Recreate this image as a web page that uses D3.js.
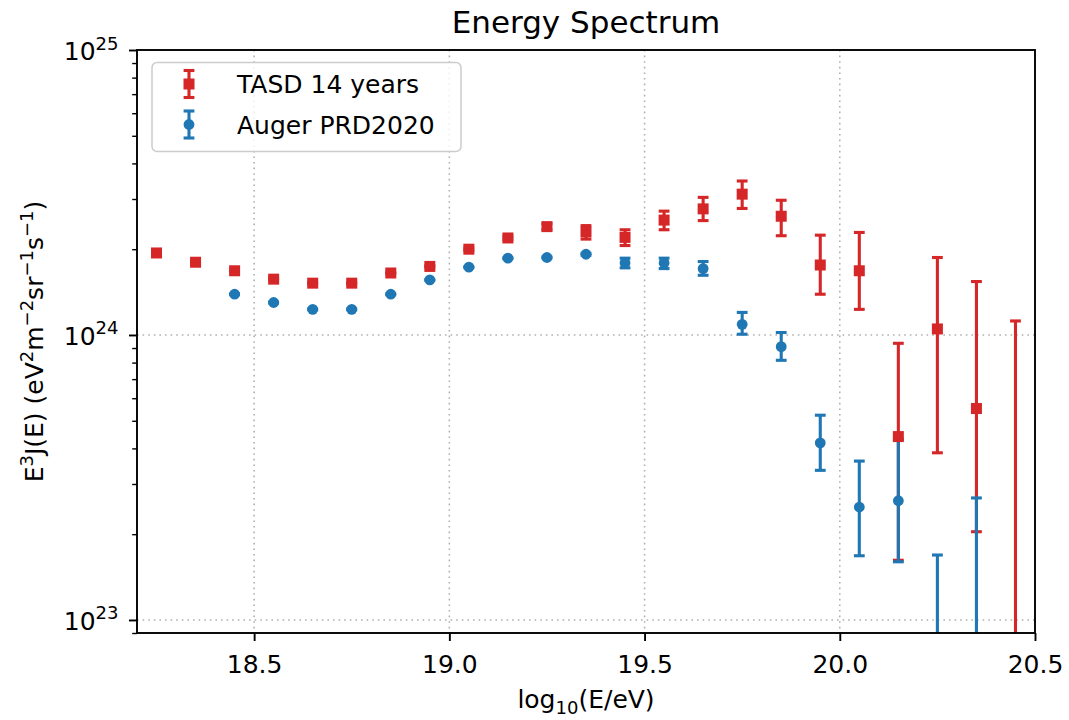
<!DOCTYPE html>
<html>
<head>
<meta charset="utf-8">
<script src="https://cdn.jsdelivr.net/npm/d3@7"></script>
<style>
  body { margin: 0; background: #ffffff; }
  svg { display: block; font-family: "DejaVu Sans", "Liberation Sans", sans-serif; }
</style>
</head>
<body>
<svg id="chart" width="1069" height="720"></svg>
<script>
// ---- Data: E^3 J(E) in eV^2 m^-2 sr^-1 s^-1, bin centres in log10(E/eV) ----
const tasdEnergy = [18.25, 18.35, 18.45, 18.55, 18.65, 18.75, 18.85, 18.95, 19.05, 19.15, 19.25, 19.35,
                    19.45, 19.55, 19.65, 19.75, 19.85, 19.95, 20.05, 20.15, 20.25, 20.35, 20.45];
const tasdFlux  = [1.94e24, 1.80e24, 1.68e24, 1.57e24, 1.52e24, 1.52e24, 1.65e24, 1.74e24, 2.00e24, 2.19e24, 2.40e24, 2.30e24,
                   2.20e24, 2.53e24, 2.77e24, 3.12e24, 2.61e24, 1.76e24, 1.68e24, 4.40e23, 1.05e24, 5.52e23, 4.0e22];
const tasdUpper = [1.95e24, 1.81e24, 1.69e24, 1.58e24, 1.53e24, 1.53e24, 1.66e24, 1.75e24, 2.02e24, 2.22e24, 2.46e24, 2.42e24,
                   2.34e24, 2.72e24, 3.04e24, 3.47e24, 2.97e24, 2.24e24, 2.29e24, 9.35e23, 1.87e24, 1.54e24, 1.12e24];
const tasdLower = [1.93e24, 1.79e24, 1.67e24, 1.56e24, 1.51e24, 1.51e24, 1.64e24, 1.73e24, 1.98e24, 2.16e24, 2.34e24, 2.17e24,
                   2.06e24, 2.34e24, 2.52e24, 2.78e24, 2.23e24, 1.39e24, 1.23e24, 1.62e23, 3.86e23, 2.04e23, 1.0e21];

const augerEnergy = [18.45, 18.55, 18.65, 18.75, 18.85, 18.95, 19.05, 19.15, 19.25, 19.35,
                     19.45, 19.55, 19.65, 19.75, 19.85, 19.95, 20.05, 20.15, 20.25, 20.35];
const augerFlux  = [1.39e24, 1.30e24, 1.23e24, 1.23e24, 1.39e24, 1.56e24, 1.73e24, 1.86e24, 1.87e24, 1.92e24,
                    1.79e24, 1.79e24, 1.71e24, 1.09e24, 9.10e23, 4.18e23, 2.49e23, 2.62e23, 5.0e22, 6.0e22];
const augerUpper = [1.395e24, 1.305e24, 1.235e24, 1.235e24, 1.395e24, 1.565e24, 1.737e24, 1.868e24, 1.878e24, 1.935e24,
                    1.86e24, 1.86e24, 1.81e24, 1.20e24, 1.02e24, 5.23e23, 3.61e23, 4.30e23, 1.69e23, 2.68e23];
const augerLower = [1.385e24, 1.295e24, 1.225e24, 1.225e24, 1.385e24, 1.555e24, 1.723e24, 1.852e24, 1.862e24, 1.905e24,
                    1.72e24, 1.71e24, 1.62e24, 1.006e24, 8.15e23, 3.35e23, 1.68e23, 1.60e23, 1.0e21, 1.0e21];

const seriesNames = ["TASD 14 years", "Auger PRD2020"];
const seriesColors = ["#d62728", "#1f77b4"];

const xDomain = [18.2, 20.5];
const yDomain = [9e22, 1e25];
const xTickValues = [18.5, 19.0, 19.5, 20.0, 20.5];
const yMajorTicks = [1e23, 1e24, 1e25];
const yTickExponents = ["23", "24", "25"];

// ---- Layout ----
const plot = { left: 137, right: 1035, top: 50, bottom: 633 };
const svg = d3.select("#chart");

const x = d3.scaleLinear().domain(xDomain).range([plot.left, plot.right]);
const y = d3.scaleLog().domain(yDomain).range([plot.bottom, plot.top]);

svg.append("rect").attr("width", 1069).attr("height", 720).attr("fill", "#ffffff");

svg.append("defs").append("clipPath").attr("id", "plotClip")
  .append("rect")
  .attr("x", plot.left).attr("y", plot.top)
  .attr("width", plot.right - plot.left).attr("height", plot.bottom - plot.top);

// ---- Dotted grid at major ticks ----
const gridColor = "#b0b0b0";
const grid = svg.append("g").attr("stroke", gridColor).attr("stroke-width", 1.6)
  .attr("stroke-dasharray", "1.6,4").attr("stroke-linecap", "butt");
grid.selectAll("line.gx")
  .data(xTickValues.filter(v => v > xDomain[0] && v < xDomain[1]))
  .join("line").attr("class", "gx")
  .attr("x1", d => x(d)).attr("x2", d => x(d))
  .attr("y1", plot.top).attr("y2", plot.bottom);
grid.selectAll("line.gy")
  .data(yMajorTicks.filter(v => v > yDomain[0] && v < yDomain[1]))
  .join("line").attr("class", "gy")
  .attr("y1", d => y(d)).attr("y2", d => y(d))
  .attr("x1", plot.left).attr("x2", plot.right);

// ---- Error bars and markers ----
function seriesRows(energy, flux, upper, lower) {
  return energy.map((e, i) => ({ e, v: flux[i], hi: upper[i], lo: lower[i] }));
}
const tasdRows = seriesRows(tasdEnergy, tasdFlux, tasdUpper, tasdLower);
const augerRows = seriesRows(augerEnergy, augerFlux, augerUpper, augerLower);

const dataLayer = svg.append("g").attr("clip-path", "url(#plotClip)");
const capHalf = 5.4;
const barWidth = 3.1;

function drawErrorBars(rows, color) {
  const g = dataLayer.append("g").attr("stroke", color).attr("stroke-width", barWidth);
  g.selectAll("line.bar").data(rows).join("line").attr("class", "bar")
    .attr("x1", d => x(d.e)).attr("x2", d => x(d.e))
    .attr("y1", d => y(d.hi)).attr("y2", d => y(d.lo));
  g.selectAll("line.capHi").data(rows).join("line").attr("class", "capHi")
    .attr("x1", d => x(d.e) - capHalf).attr("x2", d => x(d.e) + capHalf)
    .attr("y1", d => y(d.hi)).attr("y2", d => y(d.hi));
  g.selectAll("line.capLo").data(rows).join("line").attr("class", "capLo")
    .attr("x1", d => x(d.e) - capHalf).attr("x2", d => x(d.e) + capHalf)
    .attr("y1", d => y(d.lo)).attr("y2", d => y(d.lo));
}
drawErrorBars(tasdRows, seriesColors[0]);
drawErrorBars(augerRows, seriesColors[1]);

const squareSide = 11;
const circleR = 5.4;
dataLayer.append("g").selectAll("rect").data(tasdRows).join("rect")
  .attr("x", d => x(d.e) - squareSide / 2).attr("y", d => y(d.v) - squareSide / 2)
  .attr("width", squareSide).attr("height", squareSide)
  .attr("fill", seriesColors[0]);
dataLayer.append("g").selectAll("circle").data(augerRows).join("circle")
  .attr("cx", d => x(d.e)).attr("cy", d => y(d.v)).attr("r", circleR)
  .attr("fill", seriesColors[1]);

// ---- Axes ----
const tickFont = 25;
const xAxis = svg.append("g").attr("transform", `translate(0,${plot.bottom})`)
  .call(d3.axisBottom(x).tickValues(xTickValues).tickFormat(d3.format(".1f")).tickSize(8).tickSizeOuter(0));
xAxis.select(".domain").remove();
xAxis.selectAll(".tick line").attr("stroke", "#000").attr("stroke-width", 1.9);
xAxis.selectAll(".tick text")
  .attr("y", 40).attr("dy", 0)
  .attr("font-size", tickFont).attr("fill", "#000").attr("font-family", "DejaVu Sans");

const minorTicks = y.ticks().filter(v => !yMajorTicks.includes(v) && v >= yDomain[0] && v <= yDomain[1]);
const yMinor = svg.append("g").attr("transform", `translate(${plot.left},0)`)
  .call(d3.axisLeft(y).tickValues(minorTicks).tickFormat("").tickSize(4.8).tickSizeOuter(0));
yMinor.select(".domain").remove();
yMinor.selectAll(".tick line").attr("stroke", "#000").attr("stroke-width", 1.4);

const yMajor = svg.append("g").attr("transform", `translate(${plot.left},0)`)
  .call(d3.axisLeft(y).tickValues(yMajorTicks).tickFormat("").tickSize(8).tickSizeOuter(0));
yMajor.select(".domain").remove();
yMajor.selectAll(".tick line").attr("stroke", "#000").attr("stroke-width", 1.9);
yMajor.selectAll(".tick text").remove();
yMajor.selectAll(".tick").each(function(d, i) {
  const t = d3.select(this).append("text")
    .attr("x", -18.5).attr("y", 9.5)
    .attr("text-anchor", "end").attr("fill", "#000")
    .attr("font-size", tickFont).attr("font-family", "DejaVu Sans");
  t.append("tspan").text("10");
  t.append("tspan").attr("font-size", 18).attr("dy", -10.5).text(yTickExponents[i]);
});

// ---- Frame ----
svg.append("rect")
  .attr("x", plot.left).attr("y", plot.top)
  .attr("width", plot.right - plot.left).attr("height", plot.bottom - plot.top)
  .attr("fill", "none").attr("stroke", "#000").attr("stroke-width", 1.9);

// ---- Title and axis labels ----
const midX = (plot.left + plot.right) / 2;
svg.append("text").attr("x", midX).attr("y", 33)
  .attr("text-anchor", "middle").attr("font-size", 31).attr("fill", "#000")
  .text("Energy Spectrum");

const xl = svg.append("text").attr("x", midX).attr("y", 708)
  .attr("text-anchor", "middle").attr("font-size", tickFont).attr("fill", "#000");
xl.append("tspan").text("log");
xl.append("tspan").attr("font-size", 18).attr("dy", 6).text("10");
xl.append("tspan").attr("dy", -6).text("(E/eV)");

const yl = svg.append("text")
  .attr("transform", `translate(43,${(plot.top + plot.bottom) / 2}) rotate(-90)`)
  .attr("text-anchor", "middle").attr("font-size", tickFont).attr("fill", "#000");
const ylParts = [["E", false], ["3", true], ["J(E) (eV", false], ["2", true], ["m", false], ["\u22122", true],
                 ["sr", false], ["\u22121", true], ["s", false], ["\u22121", true], [")", false]];
let raised = false;
ylParts.forEach(([txt, sup]) => {
  const ts = yl.append("tspan").text(txt);
  if (sup && !raised) { ts.attr("dy", -10).attr("font-size", 18); raised = true; }
  else if (sup) { ts.attr("font-size", 18); }
  else if (!sup && raised) { ts.attr("dy", 10); raised = false; }
});

// ---- Legend ----
const legend = svg.append("g");
legend.append("rect")
  .attr("x", 152).attr("y", 62.5).attr("width", 309).attr("height", 89).attr("rx", 5)
  .attr("fill", "#ffffff").attr("fill-opacity", 0.8)
  .attr("stroke", "#cccccc").attr("stroke-width", 1.5);

const legendRows = [
  { name: seriesNames[0], color: seriesColors[0], shape: "square", cy: 84 },
  { name: seriesNames[1], color: seriesColors[1], shape: "circle", cy: 124.5 }
];
const handleX = 189;
legendRows.forEach(r => {
  const g = legend.append("g").attr("stroke", r.color).attr("stroke-width", barWidth);
  g.append("line").attr("x1", handleX).attr("x2", handleX).attr("y1", r.cy - 13.5).attr("y2", r.cy + 13.5);
  g.append("line").attr("x1", handleX - capHalf).attr("x2", handleX + capHalf).attr("y1", r.cy - 13.5).attr("y2", r.cy - 13.5);
  g.append("line").attr("x1", handleX - capHalf).attr("x2", handleX + capHalf).attr("y1", r.cy + 13.5).attr("y2", r.cy + 13.5);
  if (r.shape === "square") {
    legend.append("rect").attr("x", handleX - squareSide / 2).attr("y", r.cy - squareSide / 2)
      .attr("width", squareSide).attr("height", squareSide).attr("fill", r.color);
  } else {
    legend.append("circle").attr("cx", handleX).attr("cy", r.cy).attr("r", circleR).attr("fill", r.color);
  }
  legend.append("text").attr("x", 237).attr("y", r.cy + 9)
    .attr("font-size", tickFont).attr("fill", "#000").text(r.name);
});
</script>
</body>
</html>
